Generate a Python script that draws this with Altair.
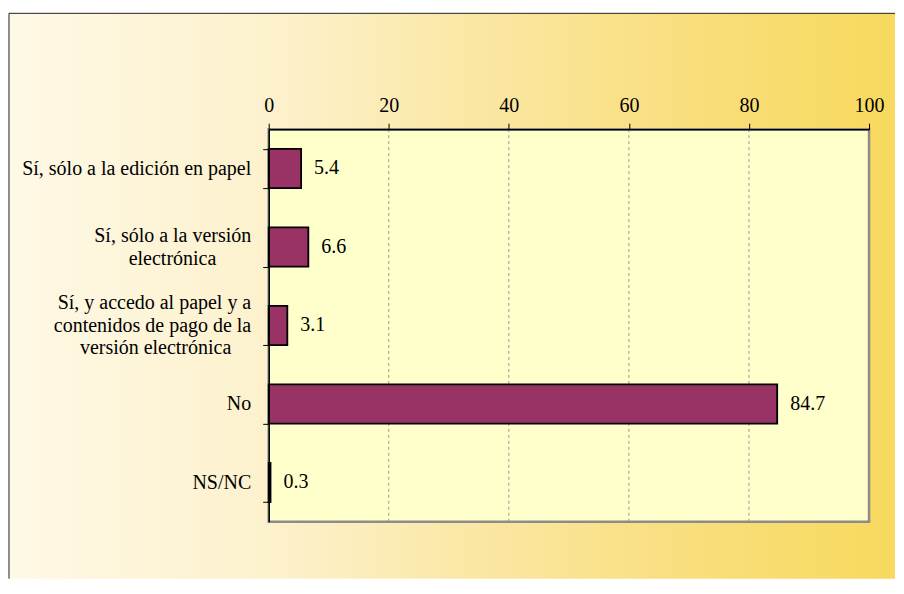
import altair as alt
import pandas as pd

PAD = "\u00a0"
END = "\u200b"
categories = [
    "Sí, sólo a la edición en papel",
    "Sí, sólo a la versión|electrónica" + PAD * 7 + END,
    "Sí, y accedo al papel y a|contenidos de pago de la|versión electrónica" + PAD * 4 + END,
    "No",
    "NS/NC",
]
values = [5.4, 6.6, 3.1, 84.7, 0.3]
x_ticks = [0, 20, 40, 60, 80, 100]
grid_ticks = [20, 40, 60, 80]

PLOT_W = 601
PLOT_H = 393
LINE_H = 22.5
FONT = "'Liberation Serif', 'Times New Roman', Times, serif"

df = pd.DataFrame({"cat": categories, "val": values})
grid_df = pd.DataFrame({"t": grid_ticks})

xscale = alt.Scale(domain=[0, 100], nice=False, zero=True)
yscale = alt.Scale(domain=categories, paddingInner=0.5, paddingOuter=0.25)

x_axis = alt.Axis(
    orient="top",
    values=x_ticks,
    grid=False,
    title=None,
    domainColor="#000000",
    domainWidth=1.5,
    tickColor="#000000",
    tickSize=6,
    tickWidth=1,
    labelPadding=8,
    labelFont=FONT,
    labelFontSize=20,
    labelColor="#000000",
    labelFlush=False,
    zindex=1,
)

one = alt.Data(values=[{}])

bg = alt.Chart(one).mark_rect(
    fill=alt.Gradient(
        gradient="linear",
        stops=[
            alt.GradientStop(color="#FEF9E6", offset=0),
            alt.GradientStop(color="#FDF1CC", offset=0.3),
            alt.GradientStop(color="#FAE6A0", offset=0.55),
            alt.GradientStop(color="#F9DD78", offset=0.8),
            alt.GradientStop(color="#F8D95E", offset=1),
        ],
        x1=0, x2=1, y1=0, y2=0,
    ),
    strokeWidth=0,
).encode(
    x=alt.value(-260), x2=alt.value(627), y=alt.value(-116), y2=alt.value(450)
)

frame_top = alt.Chart(one).mark_rule(color="#222222", strokeWidth=1).encode(
    x=alt.value(-260), x2=alt.value(627), y=alt.value(-116)
)
frame_left = alt.Chart(one).mark_rule(color="#222222", strokeWidth=1).encode(
    x=alt.value(-260), y=alt.value(-116), y2=alt.value(450)
)

plot_bg = alt.Chart(one).mark_rect(
    fill="#FFFFCC", stroke="#8C8C8C", strokeWidth=2.5
).encode(
    x=alt.datum(0, scale=xscale, axis=x_axis),
    x2=alt.datum(100),
    y=alt.value(0),
    y2=alt.value(PLOT_H),
)

grid = alt.Chart(grid_df).mark_rule(
    color="#999999", strokeWidth=1, strokeDash=[3, 3]
).encode(
    x=alt.X("t:Q", scale=xscale, axis=x_axis),
    y=alt.value(0),
    y2=alt.value(PLOT_H),
)

label_offset = {
    "condition": [
        {"test": "length(split(datum.value, '|')) == 3", "value": -LINE_H},
        {"test": "length(split(datum.value, '|')) == 2", "value": -LINE_H / 2},
    ],
    "value": 0,
}

bars = alt.Chart(df).mark_bar(
    color="#993366", stroke="#000000", strokeWidth=1.8
).encode(
    x=alt.X("val:Q", scale=xscale, axis=x_axis),
    y=alt.Y(
        "cat:N",
        sort=categories,
        scale=yscale,
        title=None,
        axis=alt.Axis(
            orient="left",
            domainColor="#000000",
            domainWidth=1.5,
            tickColor="#000000",
            tickSize=6,
            tickWidth=1,
            tickBand="extent",
            labelAlign="right",
            labelBaseline="middle",
            labelPadding=12,
            labelOffset=label_offset,
            labelFont=FONT,
            labelFontSize=20,
            labelLineHeight=LINE_H,
            labelColor="#000000",
            labelLimit=0,
            labelExpr="split(datum.label, '|')",
            zindex=1,
        ),
    ),
)

texts = alt.Chart(df).mark_text(
    align="left", baseline="middle", dx=13, font=FONT, fontSize=20, color="#000000"
).encode(
    x=alt.X("val:Q", scale=xscale, axis=x_axis),
    y=alt.Y("cat:N", sort=categories, scale=yscale),
    text=alt.Text("val:Q", format=".1f"),
)

chart = alt.layer(bg, frame_top, frame_left, plot_bg, grid, bars, texts).properties(
    width=PLOT_W,
    height=PLOT_H,
    padding={"left": 0, "top": 4, "right": 0, "bottom": 0},
    background="white",
).configure_view(stroke=None)

chart.save("out.html", embed_options={"renderer": "svg", "actions": False})
